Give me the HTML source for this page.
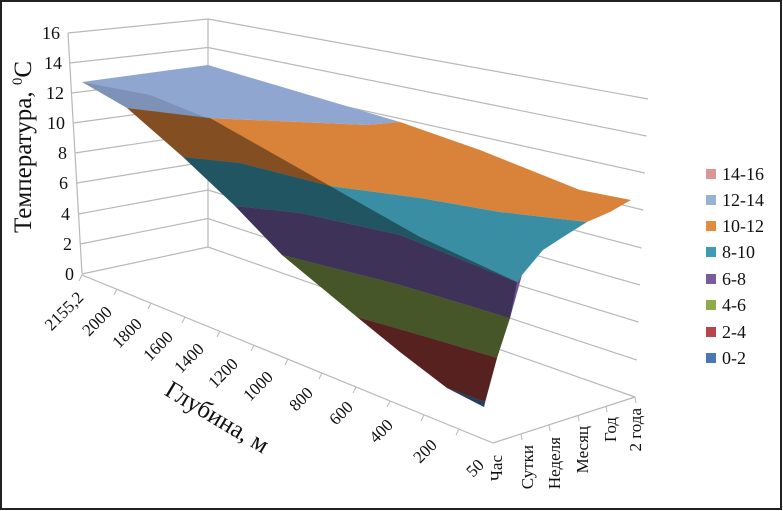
<!DOCTYPE html>
<html><head><meta charset="utf-8"><style>
html,body{margin:0;padding:0;background:#fff}
svg{display:block}
text{font-family:"Liberation Serif",serif;fill:#111}
</style></head><body>
<svg width="783" height="511" viewBox="0 0 783 511" xmlns="http://www.w3.org/2000/svg">
<rect x="1" y="1" width="780" height="508" fill="#fff" stroke="#222" stroke-width="2"/>
<g stroke="#b8b8b8" stroke-width="1.2" fill="none">
<polyline points="68,33 208,19 648,99"/>
<polyline points="69.8,63 208,47.5 646.4,136"/>
<polyline points="71.5,93 208,76 644.8,173"/>
<polyline points="73.3,123 208,104.5 643.2,210"/>
<polyline points="75,153 208,133 641.5,248"/>
<polyline points="76.8,183 208,161.5 640,285"/>
<polyline points="78.5,214 208,190 638.4,322"/>
<polyline points="80.3,244 208,218.5 636.8,360"/>
<polyline points="82,274 208,247 635,397"/>
<line x1="208" y1="19" x2="208" y2="247"/>
<line x1="68" y1="33" x2="82" y2="274"/>
<polyline points="82,275 493,443 635,397"/>
</g>
<g stroke="#b8b8b8" stroke-width="1">
<line x1="82" y1="275" x2="79" y2="281"/><line x1="117" y1="289" x2="114" y2="295"/><line x1="151" y1="303" x2="148" y2="309"/><line x1="185" y1="317" x2="182" y2="323"/><line x1="220" y1="331" x2="217" y2="337"/><line x1="254" y1="345" x2="251" y2="351"/><line x1="288" y1="359" x2="285" y2="365"/><line x1="322" y1="373" x2="319" y2="379"/><line x1="356" y1="387" x2="353" y2="393"/><line x1="390" y1="401" x2="387" y2="407"/><line x1="424" y1="415" x2="421" y2="421"/><line x1="459" y1="429" x2="456" y2="435"/>
<line x1="521" y1="434" x2="522" y2="440"/><line x1="549" y1="425" x2="550" y2="431"/><line x1="578" y1="415" x2="579" y2="421"/><line x1="606" y1="406" x2="607" y2="412"/><line x1="635" y1="397" x2="636" y2="403"/>
</g>
<g stroke="none">
<polygon fill="#8fa7d0" points="82,82 208,65 400,122 367,125 207,118 127,108"/>
<polygon fill="rgba(0,0,0,0.12)" points="82,82 127,108 207,118 150,95"/>
<polygon fill="#d9823a" points="127,108 207,118 367,125 400,122 480,150 530,170 580,190 631,200 610,212 587,222 500,212 420,198 330,186 240,163 183,157"/>
<polygon fill="#3a8ea4" points="183,157 240,163 330,186 420,198 500,212 587,222 563,237 543,250 522,275 517,282 400,235 300,213 235,206"/>
<polygon fill="#6a5494" points="235,206 300,213 400,235 517,282 522,275 510,318 400,285 282,255"/>
<polygon fill="#758f45" points="282,255 400,285 510,318 497,358 430,338 357,317"/>
<polygon fill="#8f3833" points="357,317 430,338 497,358 485,402 447,388 400,352"/>
<polygon fill="#3a6a9a" points="447,388 485,402 484,407"/>
<polygon fill="rgba(0,0,0,0.4)" points="127,108 183,157 235,206 282,255 357,317 400,352 447,388 484,407 497,358 510,318 517,282 420,237 330,186 210,118"/>
</g>
<g font-size="18" text-anchor="end">
<text x="60" y="39">16</text><text x="62" y="69">14</text><text x="64" y="99">12</text><text x="65" y="129">10</text>
<text x="67" y="159">8</text><text x="68" y="189">6</text><text x="70" y="220">4</text><text x="72" y="250">2</text><text x="74" y="280">0</text>
</g>
<text font-size="25" transform="translate(31,147) rotate(-90)" text-anchor="middle">Температура, <tspan font-size="15" dy="-9">0</tspan><tspan dy="9">С</tspan></text>
<g font-size="17" text-anchor="middle">
<text transform="translate(68,315) rotate(-45)">2155,2</text>
<text transform="translate(101,325) rotate(-45)">2000</text>
<text transform="translate(131,337) rotate(-45)">1800</text>
<text transform="translate(162,350) rotate(-45)">1600</text>
<text transform="translate(193,362) rotate(-45)">1400</text>
<text transform="translate(227,377) rotate(-45)">1200</text>
<text transform="translate(262,390) rotate(-45)">1000</text>
<text transform="translate(305,403) rotate(-45)">800</text>
<text transform="translate(345,417) rotate(-45)">600</text>
<text transform="translate(385,435) rotate(-45)">400</text>
<text transform="translate(429,455) rotate(-45)">200</text>
<text transform="translate(479,472) rotate(-45)">50</text>
</g>
<text font-size="25" transform="translate(213,424) rotate(31)" text-anchor="middle">Глубина, м</text>
<g font-size="17" text-anchor="end">
<text transform="translate(502,455) rotate(-90)">Час</text>
<text transform="translate(533,445) rotate(-90)">Сутки</text>
<text transform="translate(560,437) rotate(-90)">Неделя</text>
<text transform="translate(588,426) rotate(-90)">Месяц</text>
<text transform="translate(616,417) rotate(-90)">Год</text>
<text transform="translate(641,408) rotate(-90)">2 года</text>
</g>
<g font-size="18">
<rect x="706" y="169" width="10" height="10" fill="#d99694"/><text x="722" y="180">14-16</text>
<rect x="706" y="195" width="10" height="10" fill="#95b3d7"/><text x="722" y="206">12-14</text>
<rect x="706" y="221" width="10" height="10" fill="#e38b3f"/><text x="722" y="232">10-12</text>
<rect x="706" y="247" width="10" height="10" fill="#3f9bb3"/><text x="722" y="258">8-10</text>
<rect x="706" y="274" width="10" height="10" fill="#7a5c9c"/><text x="722" y="285">6-8</text>
<rect x="706" y="300" width="10" height="10" fill="#8fab4e"/><text x="722" y="311">4-6</text>
<rect x="706" y="327" width="10" height="10" fill="#b5474a"/><text x="722" y="338">2-4</text>
<rect x="706" y="353" width="10" height="10" fill="#4a78b4"/><text x="722" y="364">0-2</text>
</g>
</svg>
</body></html>
